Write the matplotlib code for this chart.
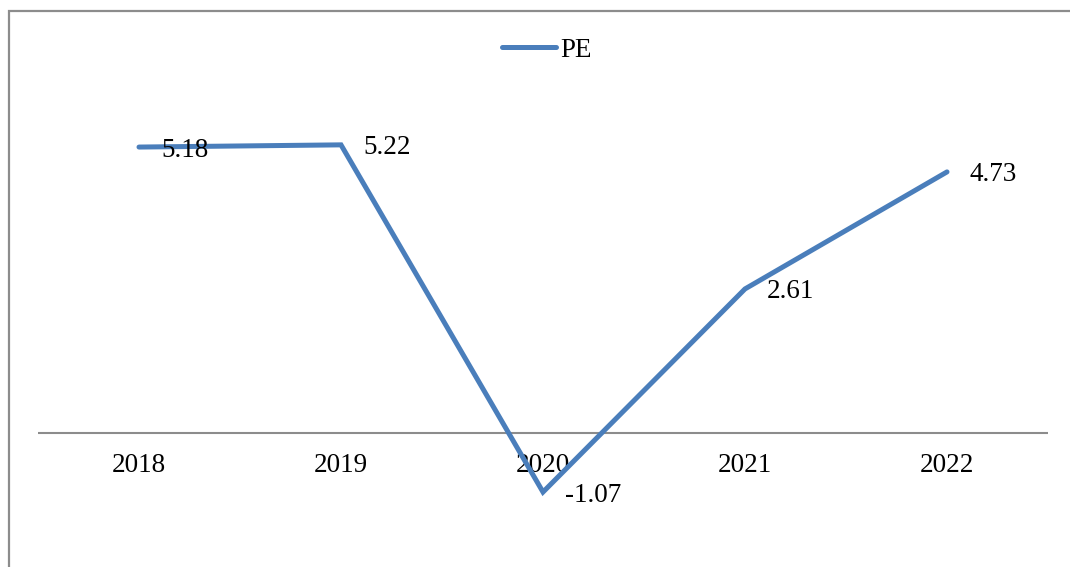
import matplotlib.pyplot as plt
import matplotlib.patches as patches

years = ['2018', '2019', '2020', '2021', '2022']
pe = [5.18, 5.22, -1.07, 2.61, 4.73]

W, H = 1070, 567
fig = plt.figure(figsize=(W / 100, H / 100), dpi=100)
plt.rcParams['font.family'] = ['Liberation Serif', 'DejaVu Serif']

# chart frame (runs past the right and bottom edges)
frame = patches.Rectangle((9 / W, -0.1), 1.2, 1 - 10.5 / H + 0.1,
                          transform=fig.transFigure, fill=False,
                          edgecolor='#8c8c8c', linewidth=1.6)
fig.add_artist(frame)

ymin, ymax = -2, 7
px_per_unit = 55.2
zero_px = 433
top_px = zero_px - ymax * px_per_unit
bot_px = zero_px - ymin * px_per_unit
ax = fig.add_axes([38 / W, 1 - bot_px / H, (1048 - 38) / W, (bot_px - top_px) / H])
ax.set_xlim(-0.5, 4.5)
ax.set_ylim(ymin, ymax)
for s in ax.spines.values():
    s.set_visible(False)
ax.set_yticks([])
ax.set_xticks([])

ax.axhline(0, color='#8c8c8c', linewidth=1.5, zorder=1)

x = list(range(len(years)))
line, = ax.plot(x, pe, color='#4a7ebb', linewidth=3.6, solid_capstyle='round',
                solid_joinstyle='miter', zorder=3, label='PE')

fs = 19.5

# category labels under the zero line
for i, yr in enumerate(years):
    ax.annotate(yr, (i, 0), xytext=(0, -33), textcoords='offset pixels',
                ha='center', va='center', fontsize=fs, color='black', zorder=2)

# value labels to the right of each point
for i, v in enumerate(pe):
    ax.annotate(f'{v:.2f}', (i, v), xytext=(22, -3), textcoords='offset pixels',
                ha='left', va='center', fontsize=fs, color='black', zorder=4)

leg = fig.legend(handles=[line], loc='center', bbox_to_anchor=(547 / W, 1 - 50 / H),
                 frameon=False, fontsize=fs, handlelength=2.0, handletextpad=0.15)

fig.savefig('out.png', dpi=100)
